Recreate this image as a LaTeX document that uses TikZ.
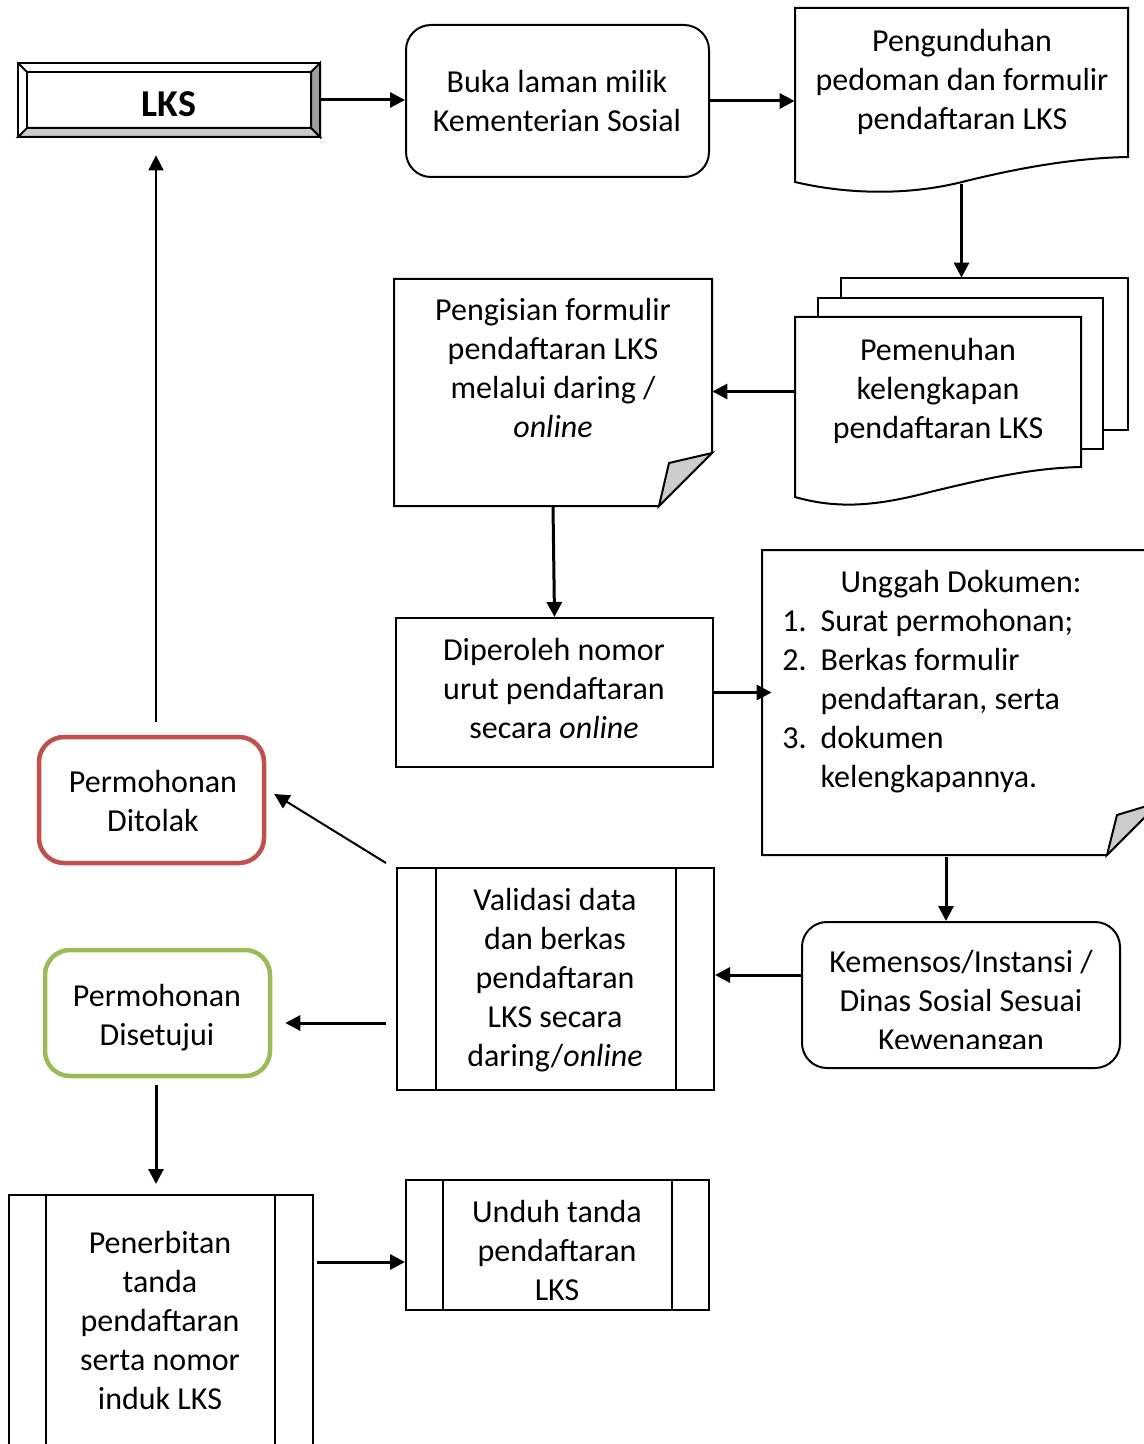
\documentclass[tikz,border=0pt]{standalone}
\usepackage{fontspec}
\setmainfont{Carlito}
\usetikzlibrary{arrows.meta,fit,calc}
\definecolor{redb}{HTML}{C0504D}
\definecolor{greenb}{HTML}{9BBB59}
\begin{document}
\begin{tikzpicture}[x=0.5pt,y=-0.5pt,
  every node/.style={font=\fontsize{16pt}{19.5pt}\selectfont, inner sep=0pt, align=center},
  box/.style={draw, line width=1pt, fit={#1}},
  area/.style={fit={#1}},
  shapeline/.style={line width=1pt},
  arr/.style={line width=1.5pt, -{Triangle[length=7.5pt,width=7.5pt]}},
  arrthin/.style={line width=1pt, -{Triangle[length=7.5pt,width=7.5pt]}}]
\useasboundingbox (0,0) rectangle (1144,1444);
\clip (0,0) rectangle (1144,1444);

% LKS bevel box
\filldraw[shapeline, fill=white] (18,63) rectangle (320,137);
\filldraw[shapeline, fill=black!38] (320,63) -- (320,137) -- (311,128) -- (311,72) -- cycle;
\filldraw[shapeline, fill=black!20] (18,137) -- (320,137) -- (311,128) -- (27,128) -- cycle;
\draw[shapeline] (18,63) -- (27,72);
\draw[shapeline] (27,72) rectangle (311,128);
\node[area={(18,63)(320,137)}] (lks) {};
\node[font=\fontsize{19pt}{22pt}\selectfont\bfseries] (lkstxt) at (169,104) {LKS};

% Buka laman
\node[box={(406,25)(709,177)}, rounded corners=12.5pt] (buka) {};
\node (bukatxt) at (557,101) {Buka laman milik\\Kementerian Sosial};

% Pengunduhan document
\filldraw[shapeline, fill=white] (795,8) -- (1128,8) -- (1128,157)
  .. controls (1070,158) and (1010,170) .. (962,182)
  .. controls (910,195) and (850,195) .. (795,182) -- cycle;
\node[area={(795,8)(1128,184)}] (peng) {};
\node (pengtxt) at (962,82) {Pengunduhan\\pedoman dan formulir\\pendaftaran LKS};

% Multi document
\filldraw[shapeline, fill=white] (841,278) rectangle (1128,430);
\filldraw[shapeline, fill=white] (818,298) rectangle (1103,449);
\filldraw[shapeline, fill=white] (795,317) -- (1081,317) -- (1081,467)
  .. controls (1030,468) and (980,480) .. (930,492)
  .. controls (880,505) and (840,510) .. (795,497) -- cycle;
\node[area={(795,278)(1128,505)}] (multi) {};
\node (multitxt) at (938,391) {Pemenuhan\\kelengkapan\\pendaftaran LKS};

% Pengisian note
\filldraw[shapeline, fill=white] (394,279) -- (712,279) -- (712,453) -- (659,506) -- (394,506) -- cycle;
\filldraw[shapeline, fill=black!20] (712,453) -- (669,463) -- (659,506) -- cycle;
\node[area={(394,279)(712,506)}] (isi) {};
\node (isitxt) at (553,368) {Pengisian formulir\\pendaftaran LKS\\melalui daring /\\\textit{online}};

% Diperoleh
\node[box={(396,618)(713,767)}] (oleh) {};
\node (olehtxt) at (554,688.5) {Diperoleh nomor\\urut pendaftaran\\secara \textit{online}};

% Unggah note
\filldraw[shapeline, fill=white] (762,550) -- (1160,550) -- (1160,802) -- (1107,855) -- (762,855) -- cycle;
\filldraw[shapeline, fill=black!20] (1160,802) -- (1117,815) -- (1107,855) -- cycle;
\node[area={(762,550)(1160,855)}] (unggah) {};
\node[anchor=base] (unghead) at (961,592) {Unggah Dokumen:};
\node[anchor=base west, align=left] (unglist) at (782,631)
  {\begin{tabular}[t]{@{}l@{\hspace{7pt}}l@{}}1.&Surat permohonan;\\2.&Berkas formulir\\&pendaftaran, serta\\3.&dokumen\\&kelengkapannya.\end{tabular}};

% Kemensos
\node[box={(802,922)(1120,1068)}, rounded corners=12.5pt] (kem) {};
\begin{scope}
\clip (802,922) rectangle (1120,1048);
\node (kemtxt) at (961,1003) {Kemensos/Instansi /\\Dinas Sosial Sesuai\\Kewenangan};
\end{scope}

% Validasi
\node[box={(397,868)(714,1090)}] (val) {};
\draw[shapeline] ([xshift=20pt]val.north west) -- ([xshift=20pt]val.south west);
\draw[shapeline] ([xshift=-19.5pt]val.north east) -- ([xshift=-19.5pt]val.south east);
\node (valtxt) at (555,980) {Validasi data\\dan berkas\\pendaftaran\\LKS secara\\daring/\textit{online}};

% Ditolak
\node[fit={(39,737)(264,863)}, draw=redb, line width=2.25pt, rounded corners=12.5pt] (tolak) {};
\node (tolaktxt) at (153,801) {Permohonan\\Ditolak};

% Disetujui
\node[fit={(45,950)(270,1076)}, draw=greenb, line width=2.25pt, rounded corners=12.5pt] (setuju) {};
\node (setujutxt) at (157,1018) {Permohonan\\Disetujui};

% Penerbitan
\node[box={(9,1195)(313,1470)}] (terbit) {};
\draw[shapeline] ([xshift=19pt]terbit.north west) -- ([xshift=19pt]terbit.south west);
\draw[shapeline] ([xshift=-19.5pt]terbit.north east) -- ([xshift=-19.5pt]terbit.south east);
\node (terbittxt) at (160,1320) {Penerbitan\\tanda\\pendaftaran\\serta nomor\\induk LKS};

% Unduh
\node[box={(406,1180)(709,1310)}] (unduh) {};
\draw[shapeline] ([xshift=19pt]unduh.north west) -- ([xshift=19pt]unduh.south west);
\draw[shapeline] ([xshift=-19pt]unduh.north east) -- ([xshift=-19pt]unduh.south east);
\node (unduhtxt) at (557,1250) {Unduh tanda\\pendaftaran\\LKS};

% connectors
\draw[arr] (lks.east) -- (lks.east -| buka.west);
\draw[arr] (buka.east) -- (buka.east -| peng.west);
\draw[arr] (peng.south) -- (multi.north);
\draw[arr] (multi.west) -- (multi.west -| isi.east);
\draw[arr] (isi.south) -- (oleh.north);
\draw[arr] (oleh.east) -- ([xshift=5pt]oleh.east -| unggah.west);
\coordinate (ud) at (946,857);
\draw[arr] (ud) -- (ud |- kem.north);
\draw[arr] ([yshift=10pt]kem.west) -- ([yshift=10pt]kem.west -| val.east);
\coordinate (dg) at (386,863);
\draw[arrthin] (dg) -- ([xshift=4pt,yshift=3pt]tolak.east);
\coordinate (up) at (156,722);
\draw[arrthin] (up) -- ([yshift=-9pt]up |- lks.south);
\coordinate (vs) at (386,1023);
\draw[arr] (vs) -- ([xshift=6.5pt]vs -| setuju.east);
\coordinate (sd) at (156,1085);
\draw[arr] (sd) -- ([yshift=5pt]sd |- terbit.north);
\coordinate (tu) at (317,1262);
\draw[arr] (tu) -- (tu -| unduh.west);
\end{tikzpicture}
\end{document}
